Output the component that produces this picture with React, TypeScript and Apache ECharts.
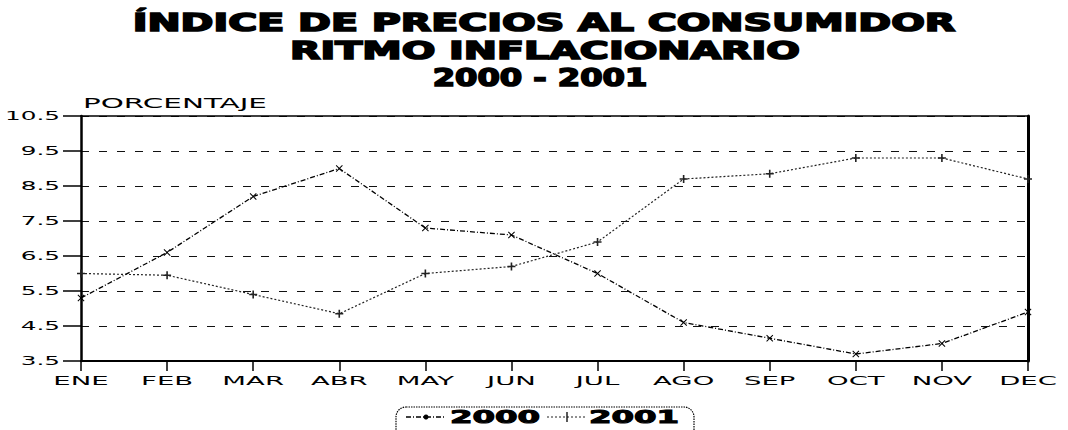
import React, { useEffect, useRef } from "react";
import * as echarts from "echarts";

const months = ["ENE", "FEB", "MAR", "ABR", "MAY", "JUN", "JUL", "AGO", "SEP", "OCT", "NOV", "DEC"];
const serie2000 = [5.3, 6.6, 8.2, 9.0, 7.3, 7.1, 6.0, 4.6, 4.15, 3.7, 4.0, 4.9];
const serie2001 = [6.0, 5.95, 5.4, 4.85, 6.0, 6.2, 6.9, 8.7, 8.85, 9.3, 9.3, 8.7];
const yTicks = [3.5, 4.5, 5.5, 6.5, 7.5, 8.5, 9.5, 10.5];
const titleLines = ["ÍNDICE DE PRECIOS AL CONSUMIDOR", "RITMO INFLACIONARIO", "2000 - 2001"];
const yAxisName = "PORCENTAJE";
const seriesNames = ["2000", "2001"];

const STAR = "path://M0,1L1,0L5,4L9,0L10,1L6,5L10,9L9,10L5,6L1,10L0,9L4,5Z";
const PLUS = "path://M4,0H6V4H10V6H6V10H4V6H0V4H4Z";

function stretchedText(
  text: string,
  x: number,
  y: number,
  font: string,
  scaleX: number,
  align: string,
  strokeWidth = 0
) {
  const style: any = {
    text,
    x: 0,
    y: 0,
    font,
    fill: "#000",
    align,
    verticalAlign: "middle",
    textAlign: align,
    textVerticalAlign: "middle",
  };
  if (strokeWidth > 0) {
    style.stroke = "#000";
    style.lineWidth = strokeWidth;
  }
  return { type: "text", x, y, scaleX, silent: true, style };
}

export default function App() {
  const ref = useRef<HTMLDivElement>(null);

  useEffect(() => {
    if (!ref.current) return;
    const chart = echarts.init(ref.current, null, { renderer: "svg" });
    chart.setOption({
      animation: false,
      backgroundColor: "#fff",
      grid: { left: 81, right: 40, top: 116, bottom: 69 },
      xAxis: [
        {
          type: "category",
          data: months,
          boundaryGap: false,
          position: "bottom",
          axisLine: { show: true, lineStyle: { color: "#000", width: 2 } },
          axisTick: { show: true, length: 10, lineStyle: { color: "#000", width: 1.5 } },
          axisLabel: { show: false },
          splitLine: { show: false },
        },
        {
          type: "category",
          data: months,
          boundaryGap: false,
          position: "top",
          axisLine: { show: true, lineStyle: { color: "#000", width: 1.5 } },
          axisTick: { show: false },
          axisLabel: { show: false },
          splitLine: { show: false },
        },
      ],
      yAxis: [
        {
          type: "value",
          min: 3.5,
          max: 10.5,
          interval: 1,
          position: "left",
          axisLine: { show: true, lineStyle: { color: "#000", width: 2.5 } },
          axisTick: { show: true, length: 18, lineStyle: { color: "#000", width: 1.5 } },
          axisLabel: { show: false },
          splitLine: { show: true, lineStyle: { color: "#111", width: 1.2, type: [8, 10] } },
        },
        {
          type: "value",
          min: 3.5,
          max: 10.5,
          interval: 1,
          position: "right",
          axisLine: { show: true, lineStyle: { color: "#000", width: 3 } },
          axisTick: { show: false },
          axisLabel: { show: false },
          splitLine: { show: false },
        },
      ],
      series: [
        {
          name: seriesNames[0],
          type: "line",
          data: serie2000,
          symbol: STAR,
          symbolSize: 7,
          itemStyle: { color: "#000" },
          lineStyle: { color: "#000", width: 1.3, type: [5, 2, 1, 2] },
        },
        {
          name: seriesNames[1],
          type: "line",
          data: serie2001,
          symbol: PLUS,
          symbolSize: 8,
          itemStyle: { color: "#222" },
          lineStyle: { color: "#222", width: 1.2, type: [2, 2] },
        },
      ],
    });

    const g: any[] = [];
    // title
    g.push(stretchedText(titleLines[0], 544, 23, "bold 24px 'DejaVu Sans'", 1.65, "center", 1.6));
    g.push(stretchedText(titleLines[1], 545, 51, "bold 24px 'DejaVu Sans'", 1.65, "center", 1.6));
    g.push(stretchedText(titleLines[2], 540, 78, "bold 24px 'DejaVu Sans'", 1.34, "center", 1.6));
    // axis name
    g.push(stretchedText(yAxisName, 83, 103, "14px 'DejaVu Sans'", 2.1, "left"));
    // y labels
    yTicks.forEach((v) => {
      const p = chart.convertToPixel({ gridIndex: 0 }, [0, v]) as number[];
      g.push(stretchedText(String(v), 60, p[1], "13px 'DejaVu Sans'", 1.9, "right"));
    });
    // x labels
    months.forEach((m, i) => {
      const p = chart.convertToPixel({ gridIndex: 0 }, [i, 3.5]) as number[];
      g.push(stretchedText(m, p[0], p[1] + 20, "12.5px 'DejaVu Sans'", 2.2, "center"));
    });
    // legend
    g.push({
      type: "rect",
      shape: { x: 396, y: 407, width: 298, height: 40, r: 10 },
      style: { fill: "none", stroke: "#000", lineWidth: 1.2, lineDash: [1.5, 1] },
      silent: true,
    });
    g.push({
      type: "line",
      shape: { x1: 406, y1: 417, x2: 446, y2: 417 },
      style: { stroke: "#000", lineWidth: 1.3, lineDash: [5, 2, 1, 2] },
      silent: true,
    });
    g.push({ type: "circle", shape: { cx: 426, cy: 417, r: 2.5 }, style: { fill: "#000" }, silent: true });
    g.push(stretchedText(seriesNames[0], 450, 417, "bold 18px 'DejaVu Sans'", 1.8, "left", 1));
    g.push({
      type: "line",
      shape: { x1: 547, y1: 417, x2: 587, y2: 417 },
      style: { stroke: "#222", lineWidth: 1.2, lineDash: [2, 2] },
      silent: true,
    });
    g.push({ type: "line", shape: { x1: 567, y1: 412, x2: 567, y2: 422 }, style: { stroke: "#000", lineWidth: 1.3 }, silent: true });
    g.push(stretchedText(seriesNames[1], 589, 417, "bold 18px 'DejaVu Sans'", 1.8, "left", 1));

    chart.setOption({ graphic: g });

    return () => chart.dispose();
  }, []);

  return <div ref={ref} style={{ position: "fixed", left: 0, top: 0, width: 1068, height: 430 }} />;
}
